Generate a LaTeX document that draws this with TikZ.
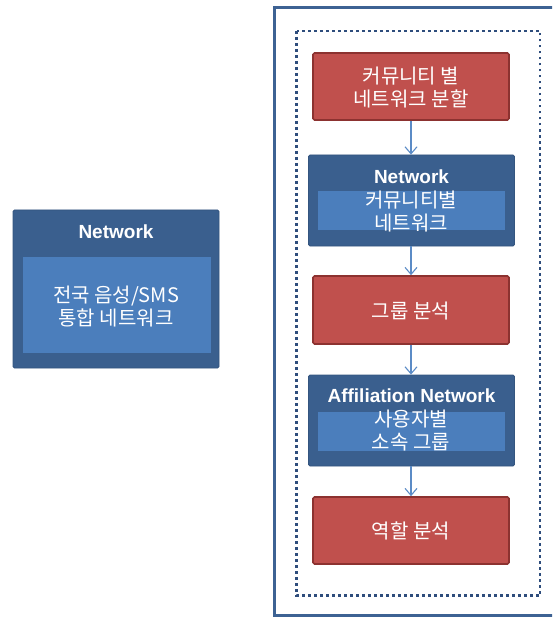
\documentclass[tikz,border=0pt]{standalone}
\usepackage{fontspec}
\setmainfont{Noto Sans CJK KR}
\newfontfamily\titlefont{Liberation Sans}
\usetikzlibrary{arrows.meta}
\definecolor{redfill}{HTML}{C0504D}
\definecolor{redline}{HTML}{8C3230}
\definecolor{bluedark}{HTML}{3A5F8E}
\definecolor{bluedarkline}{HTML}{34557F}
\definecolor{bluelight}{HTML}{4B7EBC}
\definecolor{arrowblue}{HTML}{5B8BC6}
\definecolor{framecol}{HTML}{3D6293}
\definecolor{dotcol}{HTML}{2E4D7C}
\tikzset{
  redbox/.style={draw=redline, line width=1.6pt, fill=redfill, rounded corners=1.5pt,
    minimum width=196pt, minimum height=67pt, inner sep=0pt},
  outerblue/.style={draw=bluedarkline, line width=0.8pt, fill=bluedark, rounded corners=1.5pt, inner sep=0pt},
  innerblue/.style={fill=bluelight, draw=none, inner sep=0pt},
  titletext/.style={text=white, font=\titlefont\bfseries\fontsize{19}{22}\selectfont, inner sep=0pt},
  kotext/.style={text=white, font=\fontsize{20}{23}\selectfont, align=center, inner sep=0pt},
  flow/.style={draw=arrowblue, line width=1.2pt, -{Straight Barb[length=7pt,width=12pt,line width=1.1pt]}},
}
\begin{document}
\begin{tikzpicture}[x=1pt,y=-1pt]
\useasboundingbox (0,0) rectangle (552,617);
\clip (0,0) rectangle (552,617);
% right frame
\draw[framecol, line width=3pt] (274,8) rectangle (570,615.5);
\draw[dotcol, line width=2.8pt, dash pattern=on 2.8pt off 3.2pt] (296.5,31) rectangle (540,595.5);

% left box
\node[outerblue, minimum width=206pt, minimum height=158pt] (lbox) at (116,289) {};
\node[innerblue, minimum width=188pt, minimum height=96pt] (linner) at (117,305) {};
\node[titletext] (ltitle) at (116,232) {Network};
\node[kotext] (ltext) at (116,306.5) {전국 음성/SMS\\통합 네트워크};

% right flow
\node[redbox] (r1) at (411,86.5) {};
\node[kotext] (r1t) at (411,88) {커뮤니티 별\\네트워크 분할};

\node[outerblue, minimum width=206pt, minimum height=91pt] (b2) at (411.5,200.5) {};
\node[innerblue, minimum width=187pt, minimum height=39pt] (b2i) at (411.5,210.5) {};
\node[titletext] (b2t) at (411.5,177) {Network};
\node[kotext] (b2x) at (411,212) {커뮤니티별\\네트워크};

\node[redbox, minimum height=68pt] (r3) at (411,310) {};
\node[kotext] (r3t) at (411,311) {그룹 분석};

\node[outerblue, minimum width=206pt, minimum height=91pt] (b4) at (411.5,420.5) {};
\node[innerblue, minimum width=187pt, minimum height=39pt] (b4i) at (411.5,431.5) {};
\node[titletext] (b4t) at (411.5,396) {Affiliation Network};
\node[kotext] (b4x) at (411,431) {사용자별\\소속 그룹};

\node[redbox] (r5) at (411,530.5) {};
\node[kotext] (r5t) at (411,531) {역할 분석};

\draw[flow] (r1.south) -- (r1.south |- b2.north);
\draw[flow] (r1.south |- b2.south) -- (r3.north);
\draw[flow] (r3.south) -- (r3.south |- b4.north);
\draw[flow] (r3.south |- b4.south) -- (r5.north);
\end{tikzpicture}
\end{document}
